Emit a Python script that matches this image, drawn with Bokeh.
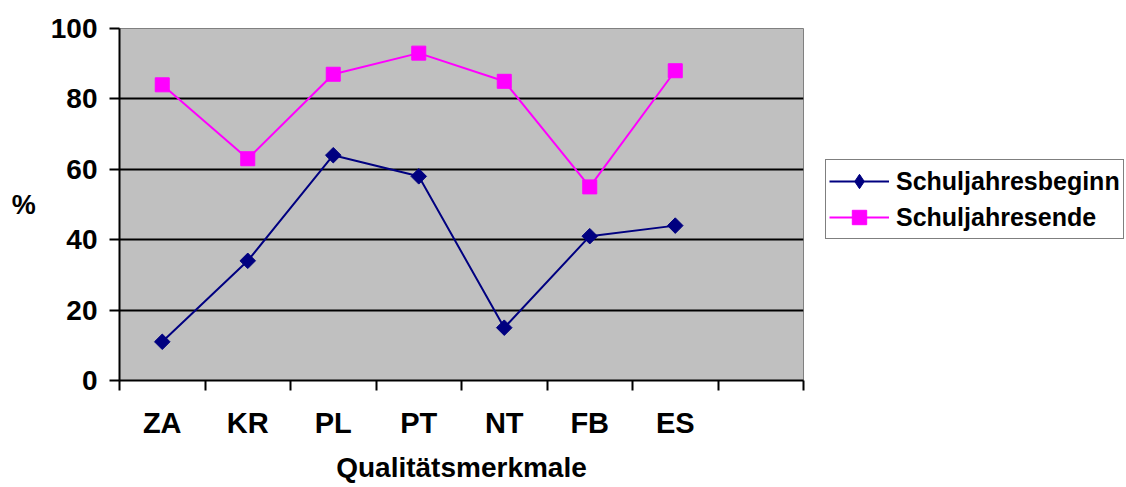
import math
from bokeh.plotting import figure
from bokeh.models import Range1d, FixedTicker, Legend, LegendItem
from bokeh.embed import file_html
from bokeh.resources import INLINE

categories = ["ZA", "KR", "PL", "PT", "NT", "FB", "ES"]
n_slots = 8
beginn = [11, 34, 64, 58, 15, 41, 44]
ende = [84, 63, 87, 93, 85, 55, 88]
y_ticks = [0, 20, 40, 60, 80, 100]
grid_ticks = [20, 40, 60, 80]

FONT = "Liberation Sans"
x = [i + 0.5 for i in range(len(categories))]

p = figure(frame_width=684, frame_height=352, output_backend="svg", toolbar_location=None,
           x_range=Range1d(0, n_slots), y_range=Range1d(0, 100),
           min_border_left=119, min_border_right=323, min_border_top=28,
           min_border_bottom=107)
p.background_fill_color = "#C0C0C0"
p.border_fill_color = "white"
p.outline_line_color = "#808080"
p.outline_line_width = 1

# grid
p.xgrid.visible = False
p.ygrid.ticker = FixedTicker(ticks=grid_ticks)
p.ygrid.grid_line_color = "black"
p.ygrid.grid_line_width = 2

# y axis
ya = p.yaxis[0]
ya.ticker = FixedTicker(ticks=y_ticks)
ya.axis_line_width = 2
ya.axis_line_color = "black"
ya.major_tick_out = 10
ya.major_tick_in = 0
ya.major_tick_line_width = 2
ya.minor_tick_line_color = None
ya.major_label_text_font = FONT
ya.major_label_text_font_style = "bold"
ya.major_label_text_font_size = "28px"
ya.major_label_text_color = "black"
ya.major_label_standoff = 12
ya.axis_label = "%"
ya.axis_label_orientation = "horizontal"
ya.axis_label_text_font = FONT
ya.axis_label_text_font_style = "bold"
ya.axis_label_text_font_size = "27px"
ya.axis_label_text_color = "black"
ya.axis_label_standoff = 12

# x axis
xa = p.xaxis[0]
xa.ticker = FixedTicker(ticks=x, minor_ticks=list(range(n_slots + 1)))
xa.major_label_overrides = {xi: c for xi, c in zip(x, categories)}
xa.axis_line_width = 2
xa.axis_line_color = "black"
xa.major_tick_out = 0
xa.major_tick_in = 0
xa.major_tick_line_color = None
xa.minor_tick_out = 10
xa.minor_tick_in = 0
xa.minor_tick_line_width = 2
xa.minor_tick_line_color = "black"
xa.major_label_text_font = FONT
xa.major_label_text_font_style = "bold"
xa.major_label_text_font_size = "29px"
xa.major_label_text_color = "black"
xa.major_label_standoff = 16
xa.axis_label = "Qualitätsmerkmale"
xa.axis_label_text_font = FONT
xa.axis_label_text_font_style = "bold"
xa.axis_label_text_font_size = "28px"
xa.axis_label_text_color = "black"
xa.axis_label_standoff = 10

# series
l1 = p.line(x, beginn, line_color="#000080", line_width=2)
# diamond used for the legend symbol (hidden under the rotated squares in the plot)
d1 = p.scatter(x, beginn, marker="diamond", size=9,
               fill_color="#000080", line_color="#000080")
s1 = p.scatter(x, beginn, marker="square", angle=math.pi / 4, size=11,
               fill_color="#000080", line_color="#000080")
l2 = p.line(x, ende, line_color="#FF00FF", line_width=2)
s2 = p.scatter(x, ende, marker="square", size=14,
               fill_color="#FF00FF", line_color="#FF00FF")

legend = Legend(items=[LegendItem(label="Schuljahresbeginn", renderers=[l1, d1]),
                       LegendItem(label="Schuljahresende", renderers=[l2, s2])],
                location=(22, 141))
legend.margin = 0
legend.padding = 3
legend.spacing = 0
legend.glyph_width = 60
legend.glyph_height = 36
legend.label_height = 36
legend.label_standoff = 7
legend.label_text_font = FONT
legend.label_text_font_style = "bold"
legend.label_text_font_size = "25px"
legend.label_text_color = "black"
legend.border_line_color = "black"
legend.border_line_width = 1.5
legend.background_fill_color = "white"
legend.background_fill_alpha = 1
p.add_layout(legend, "right")

open("out.html", "w").write(file_html(p, INLINE))
